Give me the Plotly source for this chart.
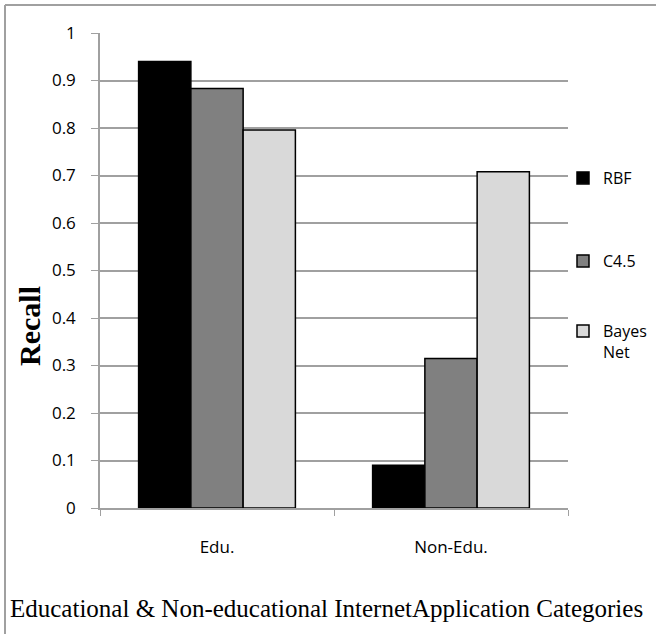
import plotly.graph_objects as go

categories = ["Edu.", "Non-Edu."]
series_names = ["RBF", "C4.5", "Bayes<br>Net"]
rbf = [0.94, 0.09]
c45 = [0.883, 0.315]
bayes = [0.796, 0.708]
y_ticks = [0, 0.1, 0.2, 0.3, 0.4, 0.5, 0.6, 0.7, 0.8, 0.9, 1]
y_tick_labels = ["0", "0.1", "0.2", "0.3", "0.4", "0.5", "0.6", "0.7", "0.8", "0.9", "1"]
x_title = "Educational & Non-educational InternetApplication Categories"

colors = ["#000000", "#808080", "#d9d9d9"]
values = [rbf, c45, bayes]
legend_ids = ["legend", "legend2", "legend3"]

fig = go.Figure()
for i, (name, vals) in enumerate(zip(series_names, values)):
    fig.add_trace(go.Bar(
        x=categories, y=vals, name=name, legend=legend_ids[i],
        marker=dict(color=colors[i], line=dict(color="#000000", width=1.5)),
    ))

W, H = 656, 634
L, R, T, B = 100, 88, 33, 126
pw, ph = W - L - R, H - T - B

def px_x(p):
    return (p - L) / pw

def px_y(p):
    return (H - B - p) / ph

gray = "#a0a0a0"
tick_font = dict(family="Open Sans", size=17, color="#000000")
legend_font = dict(family="Open Sans", size=16, color="#000000")
legend_y = [173, 256, 326]

def legend_cfg(py):
    return dict(
        x=px_x(563), y=px_y(py - 12), xanchor="left", yanchor="top",
        font=legend_font, itemwidth=30, valign="top",
        bgcolor="rgba(0,0,0,0)",
    )

fig.update_layout(
    width=W, height=H,
    margin=dict(l=L, r=R, t=T, b=B, autoexpand=False),
    paper_bgcolor="white", plot_bgcolor="white",
    barmode="group", bargap=0.33, bargroupgap=0,
    font=tick_font,
    showlegend=True,
    legend=legend_cfg(legend_y[0]),
    legend2=legend_cfg(legend_y[1]),
    legend3=legend_cfg(legend_y[2]),
    xaxis=dict(
        showline=True, linecolor=gray, linewidth=1.5,
        ticks="outside", tickson="boundaries", ticklen=6, tickcolor=gray,
        showgrid=False, ticklabelstandoff=23,
        tickfont=tick_font,
    ),
    yaxis=dict(
        range=[0, 1], tickvals=y_ticks, ticktext=y_tick_labels,
        showline=True, linecolor=gray, linewidth=1.5,
        ticks="outside", ticklen=7, tickcolor=gray,
        showgrid=True, gridcolor=gray, gridwidth=1.5,
        zeroline=False, ticklabelstandoff=12,
        tickfont=tick_font,
    ),
    annotations=[
        dict(
            text="<b>Recall</b>", textangle=-90, showarrow=False,
            xref="paper", yref="paper", x=px_x(29), y=px_y(326),
            xanchor="center", yanchor="middle",
            font=dict(family="Liberation Serif", size=30),
        ),
        dict(
            text=x_title, showarrow=False,
            xref="paper", yref="paper", x=px_x(326), y=px_y(608),
            xanchor="center", yanchor="middle",
            font=dict(family="Liberation Serif", size=25, color="#000000"),
        ),
    ],
    shapes=[
        dict(type="line", xref="paper", yref="paper",
             x0=px_x(5), x1=px_x(656), y0=px_y(5), y1=px_y(5),
             line=dict(color=gray, width=2)),
        dict(type="line", xref="paper", yref="paper",
             x0=px_x(5), x1=px_x(5), y0=px_y(5), y1=px_y(634),
             line=dict(color=gray, width=2)),
    ],
)

fig.write_html("out.html")
